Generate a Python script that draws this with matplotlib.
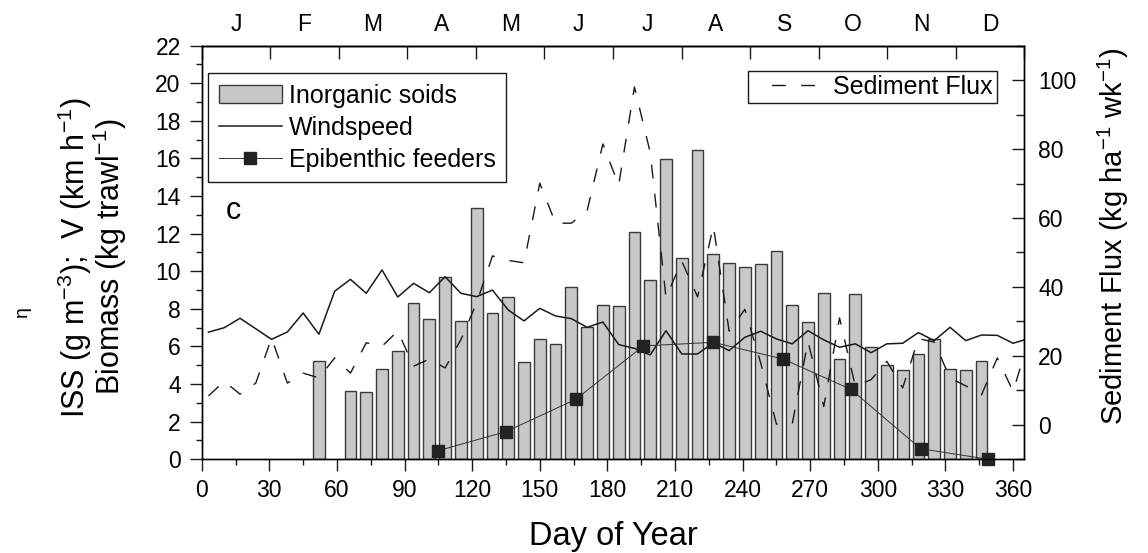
import matplotlib
matplotlib.use("Agg")
import matplotlib.pyplot as plt
import numpy as np
from matplotlib.patches import Patch
from matplotlib.lines import Line2D
from matplotlib.ticker import MultipleLocator

plt.rcParams.update({
    "font.family": "Liberation Sans",
    "mathtext.fontset": "custom",
    "mathtext.rm": "Liberation Sans",
    "mathtext.it": "Liberation Sans:italic",
    "mathtext.bf": "Liberation Sans:bold",
    "axes.linewidth": 1.0,
})

# weekly inorganic suspended solids (g m-3)
iss_days = [52, 66, 73, 80, 87, 94, 101, 108, 115, 122, 129, 136, 143, 150,
            157, 164, 171, 178, 185, 192, 199, 206, 213, 220, 227, 234, 241,
            248, 255, 262, 269, 276, 283, 290, 297, 304, 311, 318, 325, 332,
            339, 346]
iss = [5.24, 3.63, 3.56, 4.79, 5.74, 8.31, 7.48, 9.70, 7.34, 13.38, 7.78,
       8.62, 5.16, 6.42, 6.13, 9.15, 7.05, 8.19, 8.15, 12.11, 9.55, 15.97,
       10.72, 16.45, 10.90, 10.46, 10.23, 10.37, 11.10, 8.22, 7.29, 8.85,
       5.32, 8.81, 5.99, 5.00, 4.73, 5.58, 6.42, 4.82, 4.73, 5.24]

# windspeed (km h-1)
wind_days = [3, 10, 17, 31, 38, 45, 52, 59, 66, 73, 80, 87, 94, 101, 108,
             115, 122, 129, 136, 143, 150, 157, 164, 171, 178, 185, 192, 199,
             206, 213, 220, 227, 234, 241, 248, 255, 262, 269, 276, 283, 290,
             297, 304, 311, 318, 325, 332, 339, 346, 353, 360, 365]
wind = [6.76, 7.0, 7.5, 6.38, 6.77, 7.78, 6.65, 8.94, 9.57, 8.83, 10.07,
        8.63, 9.36, 8.86, 9.71, 8.83, 8.65, 9.0, 7.94, 7.36, 8.03, 7.62, 7.48,
        7.02, 7.30, 6.10, 5.9, 5.55, 6.84, 5.60, 5.60, 6.2, 5.78, 6.49, 6.81,
        6.40, 6.14, 6.84, 6.35, 5.96, 6.14, 5.67, 6.14, 6.17, 6.74, 6.31,
        7.02, 6.31, 6.61, 6.59, 6.17, 6.35]

# epibenthic feeders biomass (kg trawl-1)
epi_days = [105, 135, 166, 196, 227, 258, 288, 319, 349]
epi = [0.46, 1.47, 3.19, 6.03, 6.22, 5.33, 3.72, 0.56, 0.0]

# sediment flux (kg ha-1 wk-1), right axis
flux_days = [3, 10, 17, 24, 31, 38, 45, 52, 59, 66, 73, 80, 87, 94, 101,
             108, 115, 122, 129, 136, 143, 150, 157, 164, 171, 178, 185, 192,
             199, 206, 213, 220, 227, 234, 241, 248, 255, 262, 269, 276, 283,
             290, 297, 304, 311, 318, 325, 332, 339, 346, 353, 360, 365]
flux = [8.4, 12.6, 8.9, 12.1, 25.2, 12.1, 15.0, 13.6, 19.4, 15.0, 23.8, 22.8,
        27.2, 17.0, 19.1, 16.5, 24.7, 35.4, 49.0, 47.7, 47.0, 70.1, 58.5,
        58.5, 62.1, 81.5, 69.5, 98.0, 79.0, 36.9, 47.5, 37.1, 57.7, 27.2,
        33.5, 18.0, 0.2, 0.2, 24.2, 5.3, 31.0, 11.2, 13.1, 18.4, 10.7, 25.0,
        24.0, 13.6, 11.3, 8.7, 19.4, 9.7, 20.4]

months = ["J", "F", "M", "A", "M", "J", "J", "A", "S", "O", "N", "D"]

INK = "#1a1a1a"
BAR = "#c8c8c8"
DASH = (0, (10, 11))

fig = plt.figure(figsize=(11.48, 5.53), dpi=100)
ax = fig.add_axes([0.1757, 0.1695, 0.7166, 0.7479])

ax.bar(iss_days, iss, width=5.2, color=BAR, edgecolor="#3a3a3a",
       linewidth=1.0, zorder=1)
ax.plot(wind_days, wind, color=INK, linewidth=1.1, zorder=3)
ax.plot(epi_days, epi, color="#333333", linewidth=0.7, marker="s",
        markersize=9, markerfacecolor="#222222", markeredgecolor="#222222",
        zorder=4, clip_on=False)

ax.set_xlim(0, 365)
ax.set_ylim(0, 22)
ax.xaxis.set_major_locator(MultipleLocator(30))
ax.xaxis.set_minor_locator(MultipleLocator(15))
ax.yaxis.set_major_locator(MultipleLocator(2))
ax.yaxis.set_minor_locator(MultipleLocator(1))
ax.tick_params(which="both", direction="out", labelsize=16.5, top=False,
               right=False, color=INK)
ax.tick_params(which="major", length=8.6, width=1.0, pad=5.5)
ax.tick_params(which="minor", length=4.5, width=1.0)
ax.tick_params(axis="y", which="major", pad=6.5)
ax.set_xlabel("Day of Year", fontsize=23.5, labelpad=14)

ax.text(0.0295, 0.581, "c", transform=ax.transAxes, fontsize=22,
        ha="left", va="baseline")

# month letters on top
sec = ax.secondary_xaxis("top")
sec.set_xticks(np.arange(13) * 365 / 12)
sec.set_xticklabels([])
sec.set_xticks((np.arange(12) + 0.5) * 365 / 12, months, minor=True)
sec.tick_params(which="major", direction="in", length=9.4, width=1.0,
                color=INK)
sec.tick_params(which="minor", length=0, labelsize=16.5, pad=7)

ax2 = ax.twinx()
ax2.plot(flux_days, flux, color=INK, linewidth=1.0, linestyle=DASH)
ax2.set_ylim(-10, 110)
ax2.yaxis.set_minor_locator(MultipleLocator(10))
ax2.set_yticks([0, 20, 40, 60, 80, 100])
ax2.tick_params(which="both", direction="in", labelsize=16.5, pad=10,
                color=INK)
ax2.tick_params(which="major", length=9, width=1.0)
ax2.tick_params(which="minor", length=5.5, width=1.0)

handles = [
    Patch(facecolor=BAR, edgecolor="#3a3a3a", linewidth=1.0),
    Line2D([], [], color=INK, linewidth=1.1),
    Line2D([], [], color="#333333", linewidth=0.7, marker="s", markersize=9,
           markerfacecolor="#222222", markeredgecolor="#222222"),
]
leg = ax.legend(handles, ["Inorganic soids", "Windspeed", "Epibenthic feeders"],
                loc="upper left", bbox_to_anchor=(0.008, 0.933),
                borderaxespad=0, fontsize=18, frameon=True, fancybox=False,
                edgecolor=INK, framealpha=1, handlelength=2.53,
                handletextpad=0.27, labelspacing=0.32, borderpad=0.42)
leg.get_frame().set_linewidth(1.0)

flux_handle = Line2D([], [], color=INK, linewidth=1.0,
                     linestyle=(0, (0, 14, 10, 11, 10, 11)))
leg2 = ax2.legend([flux_handle], ["Sediment Flux"], loc="upper right",
                  bbox_to_anchor=(0.967, 0.9396), borderaxespad=0,
                  fontsize=18, frameon=True, fancybox=False, edgecolor=INK,
                  framealpha=1, handlelength=2.58, handletextpad=0.67,
                  borderpad=0.17)
leg2.get_frame().set_linewidth(1.0)

fig.text(75 / 1148, 1 - 258 / 553, "ISS (g m$^{-3}$);  V (km h$^{-1}$)",
         rotation=90, fontsize=22, ha="center", va="center")
fig.text(110 / 1148, 1 - 257 / 553, "Biomass (kg trawl$^{-1}$)",
         rotation=90, fontsize=22, ha="center", va="center")
fig.text(1113 / 1148, 1 - 236 / 553, "Sediment Flux (kg ha$^{-1}$ wk$^{-1}$)",
         rotation=90, fontsize=21, ha="center", va="center")
fig.text(22 / 1148, 1 - 312 / 553, "η", rotation=90, fontsize=14,
         ha="center", va="center")

fig.savefig("out.png", dpi=100)
